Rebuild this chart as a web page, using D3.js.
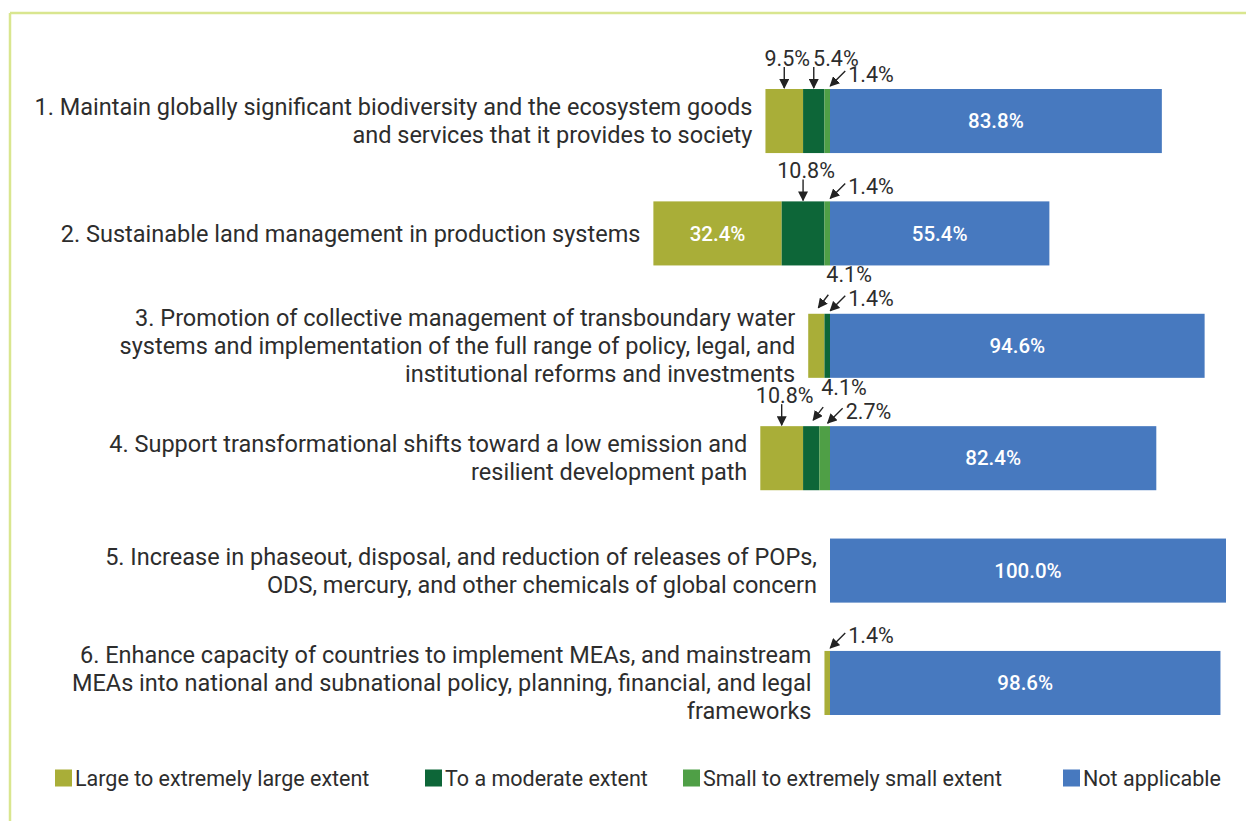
<!DOCTYPE html>
<html>
<head>
<meta charset="utf-8">
<script src="https://cdn.jsdelivr.net/npm/d3@7"></script>
<style>
  html, body { margin: 0; padding: 0; background: #fff; }
  svg { display: block; font-family: Roboto, "Noto Sans", sans-serif; }
</style>
</head>
<body>
<svg id="chart" width="1246" height="821"></svg>
<script>
// Outcome areas (each entry is a list of wrapped lines)
const categories = [
  ["1. Maintain globally significant biodiversity and the ecosystem goods", "and services that it provides to society"],
  ["2. Sustainable land management in production systems"],
  ["3. Promotion of collective management of transboundary water", "systems and implementation of the full range  of policy, legal, and", "institutional reforms and investments"],
  ["4. Support transformational shifts toward a low emission and", "resilient development path"],
  ["5. Increase in phaseout, disposal, and reduction of releases of POPs,", "ODS, mercury, and other chemicals of global concern"],
  ["6. Enhance capacity of countries to implement MEAs, and mainstream", "MEAs into national and subnational policy, planning, financial, and legal", "frameworks"]
];

// Share of responses (%) per extent
const largeExtent    = [9.5, 32.4, 4.1, 10.8, 0, 1.4];
const moderateExtent = [5.4, 10.8, 1.4, 4.1, 0, 0];
const smallExtent    = [1.4, 1.4, 0, 2.7, 0, 0];
const notApplicable  = [83.8, 55.4, 94.6, 82.4, 100.0, 98.6];

const seriesNames = ["Large to extremely large extent", "To a moderate extent", "Small to extremely small extent", "Not applicable"];
const seriesColors = ["#a9ae38", "#0d6638", "#4f9f46", "#4779bf"];

// Narrow segments labelled outside the bar: straight "down" arrow or angled arrow (tier = height level)
const callouts = [
  { row: 0, series: 0, style: "down" },
  { row: 0, series: 1, style: "down" },
  { row: 0, series: 2, style: "diag", tier: 0 },
  { row: 1, series: 1, style: "down" },
  { row: 1, series: 2, style: "diag", tier: 0 },
  { row: 2, series: 0, style: "diag", tier: 1 },
  { row: 2, series: 1, style: "diag", tier: 0 },
  { row: 3, series: 0, style: "down" },
  { row: 3, series: 1, style: "diag", tier: 1 },
  { row: 3, series: 2, style: "diag", tier: 0 },
  { row: 5, series: 0, style: "diag", tier: 0 }
];

const legendX = [55, 425, 683, 1063];

const svg = d3.select("#chart");
const textColor = "#2d2d2d";

// Frame lines along the top and left edges
svg.append("line").attr("x1", 10).attr("x2", 1246).attr("y1", 13).attr("y2", 13)
  .attr("stroke", "#d9e68f").attr("stroke-width", 2.5);
svg.append("line").attr("x1", 10).attr("x2", 10).attr("y1", 13).attr("y2", 821)
  .attr("stroke", "#d9e68f").attr("stroke-width", 2.5);

// Diverging layout: "Not applicable" grows right of the zero line, the other extents stack leftwards
const x = d3.scaleLinear().domain([0, 100]).range([830, 1226]);
const y = d3.scaleBand().domain(d3.range(categories.length)).range([89, 715]).paddingInner(0.43).paddingOuter(0);

const rows = categories.map((lines, i) => {
  const vals = [largeExtent[i], moderateExtent[i], smallExtent[i], notApplicable[i]];
  const segs = [];
  // left side: small next to zero, then moderate, then large
  let edge = 0;
  for (const s of [2, 1, 0]) {
    segs[s] = { series: s, value: vals[s], x0: edge - vals[s], x1: edge };
    edge -= vals[s];
  }
  segs[3] = { series: 3, value: vals[3], x0: 0, x1: vals[3] };
  return { i, lines, segs, left: edge };
});

const fmt = v => d3.format(".1f")(v) + "%";

// arrowhead
svg.append("defs").append("marker")
  .attr("id", "head").attr("viewBox", "0 0 10 10").attr("refX", 9).attr("refY", 5)
  .attr("markerWidth", 10).attr("markerHeight", 10).attr("markerUnits", "userSpaceOnUse")
  .attr("orient", "auto")
  .append("path").attr("d", "M0,0 L10,5 L0,10 z").attr("fill", "#222");

const rowG = svg.selectAll("g.row").data(rows).join("g").attr("class", "row");

rowG.selectAll("rect").data(d => d.segs.filter(s => s.value > 0).map(s => ({ ...s, row: d.i })))
  .join("rect")
  .attr("x", s => x(s.x0))
  .attr("width", s => x(s.x1) - x(s.x0))
  .attr("y", s => y(s.row))
  .attr("height", y.bandwidth())
  .attr("fill", s => seriesColors[s.series]);

// value labels inside the wide segments
rowG.selectAll("text.inside").data(d => d.segs.filter(s => s.value >= 20).map(s => ({ ...s, row: d.i })))
  .join("text").attr("class", "inside")
  .attr("x", s => (x(s.x0) + x(s.x1)) / 2)
  .attr("y", s => y(s.row) + y.bandwidth() / 2)
  .attr("dy", "0.35em")
  .attr("text-anchor", "middle")
  .attr("fill", "#fff")
  .attr("font-size", 20.5)
  .attr("font-weight", 500)
  .text(s => fmt(s.value));

// category labels, right-aligned against each bar's left end
const lineH = 28;
rowG.append("text")
  .attr("text-anchor", "end")
  .attr("fill", textColor)
  .attr("font-size", 23.5)
  .selectAll("tspan").data(d => d.lines.map((t, k) => ({ t, k, n: d.lines.length, d })))
  .join("tspan")
  .attr("x", o => x(o.d.left) - 13)
  .attr("y", o => y(o.d.i) + y.bandwidth() / 2 + (o.k - (o.n - 1) / 2) * lineH)
  .attr("dy", "0.35em")
  .text(o => o.t);

// callouts for the narrow segments
const cg = svg.append("g");
const placed = {};
callouts.forEach(c => {
  const seg = rows[c.row].segs[c.series];
  const cx = (x(seg.x0) + x(seg.x1)) / 2;
  const top = y(c.row);
  let x1, y1, x2, y2, tx, ty, anchor;
  if (c.style === "down") {
    x1 = cx; x2 = cx; y1 = top - 22; y2 = top - 1;
    tx = cx + 3; ty = top - 31; anchor = "middle";
  } else if (c.tier === 1) {
    x2 = cx + 2; y2 = top - 6; x1 = x2 + 10; y1 = y2 - 13;
    tx = x1 - 2; ty = top - 39; anchor = "start";
  } else {
    x2 = cx + 3; y2 = top - 3; x1 = x2 + 15; y1 = y2 - 15;
    tx = x1 + 3; ty = top - 15; anchor = "start";
  }
  cg.append("line").attr("x1", x1).attr("y1", y1).attr("x2", x2).attr("y2", y2)
    .attr("stroke", "#222").attr("stroke-width", 1.4).attr("marker-end", "url(#head)");
  const t = cg.append("text").attr("x", tx).attr("y", ty).attr("dy", "0.35em")
    .attr("text-anchor", anchor).attr("fill", textColor).attr("font-size", 21.5)
    .text(fmt(seg.value));
  // keep neighbouring "down" labels on the same row from running into each other
  if (c.style === "down") {
    const w = t.node().getComputedTextLength();
    let left = tx - w / 2;
    const prev = placed[c.row];
    if (prev !== undefined && left < prev + 3) {
      left = prev + 3;
      t.attr("x", left + w / 2);
    }
    placed[c.row] = left + w;
  }
});

// legend
const lg = svg.append("g").selectAll("g").data(seriesNames).join("g")
  .attr("transform", (d, i) => `translate(${legendX[i]},778)`);
lg.append("rect").attr("x", 0).attr("y", -8.5).attr("width", 17).attr("height", 17)
  .attr("fill", (d, i) => seriesColors[i]);
lg.append("text").attr("x", 20).attr("dy", "0.35em").attr("fill", textColor)
  .attr("font-size", 21.5).text(d => d);
</script>
</body>
</html>
